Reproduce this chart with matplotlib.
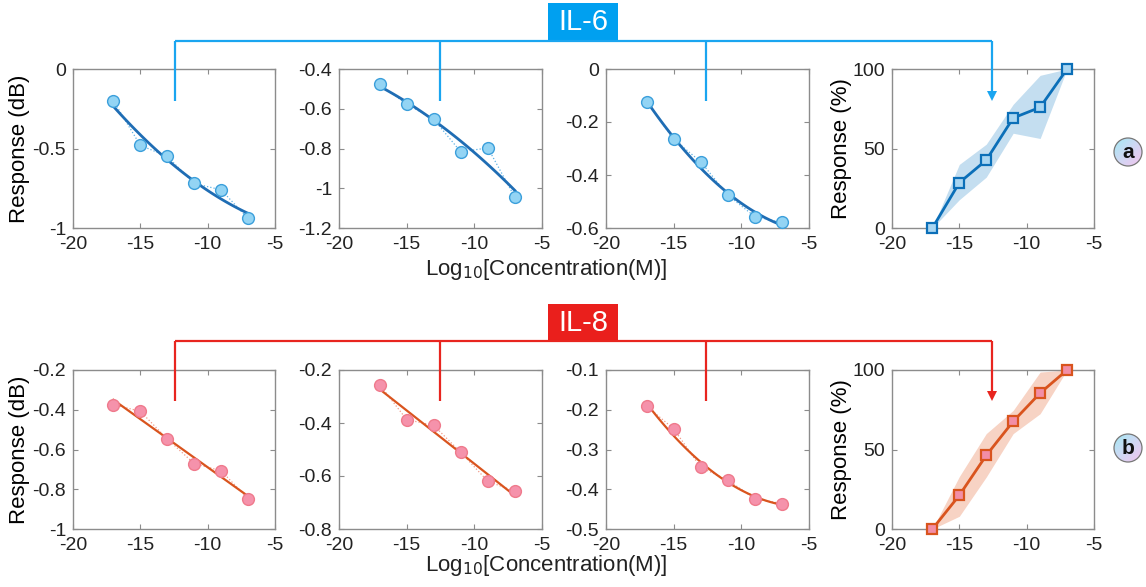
import numpy as np
import matplotlib
matplotlib.use("Agg")
import matplotlib.pyplot as plt
from matplotlib.patches import Circle, Rectangle, FancyArrow
from matplotlib.colors import LinearSegmentedColormap
from matplotlib.ticker import FuncFormatter

plt.rcParams["font.family"] = ["Liberation Sans", "DejaVu Sans"]
plt.rcParams["axes.unicode_minus"] = False

# ── Données ────────────────────────────────────────────────────
log_conc = [-17, -15, -13, -11, -9, -7]

il6_resp = [
    [-0.20, -0.48, -0.55, -0.72, -0.76, -0.94],
    [-0.477, -0.577, -0.653, -0.817, -0.797, -1.046],
    [-0.123, -0.265, -0.350, -0.476, -0.557, -0.579],
]
il8_resp = [
    [-0.374, -0.408, -0.547, -0.671, -0.707, -0.848],
    [-0.255, -0.387, -0.409, -0.511, -0.620, -0.658],
    [-0.191, -0.248, -0.345, -0.377, -0.424, -0.436],
]
il6_fit_deg = [2, 2, 2]
il8_fit_deg = [1, 1, 2]

il6_pct = [0, 28.5, 42.7, 69.2, 75.9, 100]
il6_pct_lo = [0, 17.8, 32.0, 59.6, 56.3, 100]
il6_pct_hi = [0, 40.0, 52.7, 77.8, 96.0, 100]

il8_pct = [0, 21.2, 46.3, 67.7, 85.5, 100]
il8_pct_lo = [0, 8.0, 32.7, 60.0, 72.5, 100]
il8_pct_hi = [0, 33.0, 60.0, 74.6, 98.7, 100]

il6_ylims = [(-1, 0), (-1.2, -0.4), (-0.6, 0)]
il6_yticks = [[-1, -0.5, 0], [-1.2, -1, -0.8, -0.6, -0.4], [-0.6, -0.4, -0.2, 0]]
il8_ylims = [(-1, -0.2), (-0.8, -0.2), (-0.5, -0.1)]
il8_yticks = [[-1, -0.8, -0.6, -0.4, -0.2], [-0.8, -0.6, -0.4, -0.2],
              [-0.5, -0.4, -0.3, -0.2, -0.1]]

W, H = 1146, 587
COLS = [(73, 275), (339, 542), (606, 809), (892, 1094)]
ROWS = [(69, 228), (370, 529)]
SPINE = "#8c8c8c"

fmt = FuncFormatter(lambda v, p: f"{v:g}")


def px_axes(fig, x0, x1, y0, y1):
    return fig.add_axes([x0 / W, 1 - y1 / H, (x1 - x0) / W, (y1 - y0) / H])


def style_axes(ax, ylim, yticks):
    ax.set_xlim(-20, -5)
    ax.set_xticks([-20, -15, -10, -5])
    ax.set_ylim(*ylim)
    ax.set_yticks(yticks)
    ax.xaxis.set_major_formatter(fmt)
    ax.yaxis.set_major_formatter(fmt)
    ax.tick_params(direction="in", top=True, right=True, length=3.5,
                   width=0.8, color=SPINE, labelsize=14, labelcolor="#222222")
    ax.tick_params(axis="x", pad=6)
    ax.tick_params(axis="y", pad=5)
    for s in ax.spines.values():
        s.set_color(SPINE)
        s.set_linewidth(1.0)


fig = plt.figure(figsize=(W / 100, H / 100), dpi=100)

themes = [
    dict(resp=il6_resp, deg=il6_fit_deg, ylims=il6_ylims, yticks=il6_yticks,
         pct=il6_pct, lo=il6_pct_lo, hi=il6_pct_hi,
         mfc="#93d4f4", mec="#3b9fdb", dot="#5fb2e6", fit="#1f6db4", fitlw=2.0,
         band="#c4def0", sq_fc="#a9d6f2", sq_ec="#0b6fb8"),
    dict(resp=il8_resp, deg=il8_fit_deg, ylims=il8_ylims, yticks=il8_yticks,
         pct=il8_pct, lo=il8_pct_lo, hi=il8_pct_hi,
         mfc="#f592ab", mec="#ef7a8c", dot="#f29a88", fit="#d9541e", fitlw=1.6,
         band="#f7d3c4", sq_fc="#f28ea6", sq_ec="#d9541e"),
]

xfit = np.linspace(-17, -7, 100)
for r, th in enumerate(themes):
    y0, y1 = ROWS[r]
    for c in range(3):
        ax = px_axes(fig, COLS[c][0], COLS[c][1], y0, y1)
        yv = th["resp"][c]
        ax.plot(log_conc, yv, ls=":", lw=0.9, color=th["dot"], zorder=2)
        coef = np.polyfit(log_conc, yv, th["deg"][c])
        ax.plot(xfit, np.polyval(coef, xfit), color=th["fit"], lw=th["fitlw"],
                zorder=3)
        ax.plot(log_conc, yv, ls="none", marker="o", ms=8.5, mfc=th["mfc"],
                mec=th["mec"], mew=1.0, zorder=4, clip_on=False)
        style_axes(ax, th["ylims"][c], th["yticks"][c])
        if c == 0:
            ax.set_ylabel("Response (dB)", fontsize=16, labelpad=2)
    ax4 = px_axes(fig, COLS[3][0], COLS[3][1], y0, y1)
    ax4.fill_between(log_conc, th["lo"], th["hi"], color=th["band"], lw=0,
                     zorder=1)
    ax4.plot(log_conc, th["pct"], color=th["sq_ec"], lw=2.0, marker="s",
             ms=6.5, mfc=th["sq_fc"], mec=th["sq_ec"], mew=1.6, zorder=3,
             clip_on=False)
    style_axes(ax4, (0, 100), [0, 50, 100])
    ax4.set_ylabel("Response (%)", fontsize=16, labelpad=0)

# x labels
for ytxt in (270, 566):
    fig.text(546 / W, 1 - ytxt / H, r"Log$_{10}$[Concentration(M)]",
             fontsize=16, ha="center", va="center", color="#222222")

# ── Overlay: accolades, étiquettes, pastilles ─────────────────
ov = fig.add_axes([0, 0, 1, 1], zorder=10)
ov.set_xlim(0, W)
ov.set_ylim(H, 0)
ov.axis("off")
ov.patch.set_alpha(0)

brackets = [
    dict(label="IL-6", color="#1aa5f0", box="#00a0f0", yline=41, ybox=(3, 40),
         ydrop=101, circ=(1128, 152), letter="a"),
    dict(label="IL-8", color="#e8251f", box="#ea1f1c", yline=341,
         ybox=(304, 340), ydrop=401, circ=(1128, 448), letter="b"),
]
drops_x = [175, 440, 706]
arrow_x = 992

gx, gy = np.meshgrid(np.linspace(0, 1, 48), np.linspace(0, 1, 48))
grad = (gx + gy) / 2
cm_ab = LinearSegmentedColormap.from_list("ab", ["#a4e9f3", "#cfd8f4", "#f4c4ee"])

for b in brackets:
    col = b["color"]
    ov.plot([drops_x[0], arrow_x], [b["yline"], b["yline"]], color=col, lw=1.6,
            solid_capstyle="butt")
    for xd in drops_x:
        ov.plot([xd, xd], [b["yline"], b["ydrop"]], color=col, lw=1.6,
                solid_capstyle="butt")
    ov.plot([arrow_x, arrow_x], [b["yline"], b["ydrop"] - 10], color=col, lw=1.6,
            solid_capstyle="butt")
    ov.add_patch(FancyArrow(arrow_x, b["ydrop"] - 11, 0, 11, width=0.1,
                            head_width=10, head_length=10,
                            length_includes_head=True, color=col, lw=0))
    yb0, yb1 = b["ybox"]
    ov.add_patch(Rectangle((548, yb0), 70, yb1 - yb0, color=b["box"], lw=0))
    ov.text(583, (yb0 + yb1) / 2 + 1, b["label"], color="white", fontsize=21,
            ha="center", va="center")

    cx, cy = b["circ"]
    circ = Circle((cx, cy), 14, facecolor="none", edgecolor="#777777", lw=0.9,
                  zorder=5)
    ov.add_patch(circ)
    im = ov.imshow(grad, cmap=cm_ab, extent=(cx - 14, cx + 14, cy + 14, cy - 14),
                   aspect="auto", zorder=4, interpolation="bilinear")
    im.set_clip_path(circ)
    ov.text(cx, cy + 1, b["letter"], fontsize=15, fontweight="bold",
            ha="center", va="center", color="#111111", zorder=6)

ov.set_xlim(0, W)
ov.set_ylim(H, 0)

fig.savefig("out.png", dpi=100)
